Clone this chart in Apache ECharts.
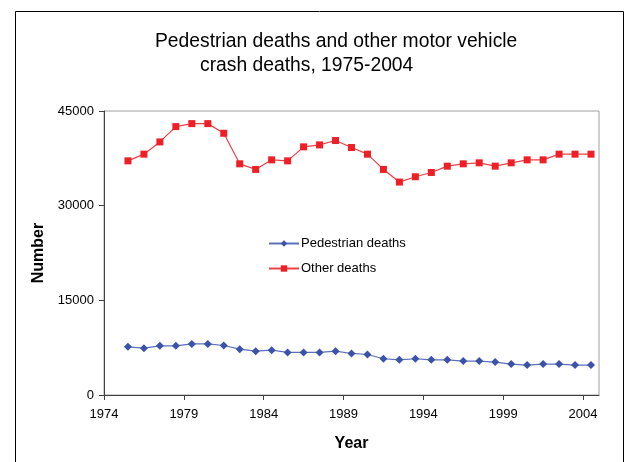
<!DOCTYPE html>
<html>
<head>
<meta charset="utf-8">
<script src="https://cdn.jsdelivr.net/npm/echarts@6/dist/echarts.min.js"></script>
<style>
html,body{margin:0;padding:0;background:#fff;}
#chart{width:628px;height:462px;}
</style>
</head>
<body>
<div id="chart"></div>
<script>
// Data
var years = [1975,1976,1977,1978,1979,1980,1981,1982,1983,1984,1985,1986,1987,1988,1989,
             1990,1991,1992,1993,1994,1995,1996,1997,1998,1999,2000,2001,2002,2003,2004];
var pedestrianDeaths = [7630,7420,7790,7790,8100,8100,7840,7260,6950,7100,6740,6740,6740,6950,6580,
                        6420,5740,5580,5740,5580,5580,5370,5370,5210,4900,4740,4900,4900,4740,4740];
var otherDeaths = [37100,38160,40100,42530,43000,43000,41470,36630,35740,37260,37100,39320,39630,40320,39210,
                   38160,35740,33740,34580,35260,36260,36630,36790,36260,36790,37260,37260,38160,38160,38160];
var xTickLabels = ['1974','1979','1984','1989','1994','1999','2004'];
var seriesNames = ['Pedestrian deaths','Other deaths'];
var titleLine1 = 'Pedestrian deaths and other motor vehicle';
var titleLine2 = 'crash deaths, 1975-2004';

// Excel-style category axis: labels sit on the tick between categories.
var xTickPositions = xTickLabels.map(function(l){ return Number(l) - 0.5; });
function pairs(vals){ return years.map(function(y,i){ return [y, vals[i]]; }); }

var chart = echarts.init(document.getElementById('chart'), null, {renderer:'canvas'});
var font = 'Liberation Sans, Arial, sans-serif';
chart.setOption({
  animation:false,
  backgroundColor:'#fff',
  textStyle:{fontFamily:font},
  title:[
    {text:titleLine1, left:155, top:32, padding:0, textStyle:{fontSize:19.3, fontWeight:'normal', color:'#000', fontFamily:font}},
    {text:titleLine2, left:200, top:56, padding:0, textStyle:{fontSize:19.3, fontWeight:'normal', color:'#000', fontFamily:font}}
  ],
  graphic:[
    {type:'rect', shape:{x:15.5, y:11.5, width:608, height:470}, style:{fill:null, stroke:'#000', lineWidth:1}, silent:true, z:-1}
  ],
  legend:{
    data:seriesNames,
    orient:'vertical',
    left:268, top:237, padding:0,
    itemWidth:30, itemHeight:8, itemGap:12,
    textStyle:{fontSize:13, color:'#000', fontFamily:font, padding:[0,0,0,-3]}
  },
  grid:{left:104, top:111, right:29, bottom:67, show:true, borderColor:'#a0a0a0', borderWidth:1, backgroundColor:'transparent'},
  xAxis:{
    type:'value', min:xTickPositions[0], max:years[years.length-1]+0.5,
    name:'Year', nameLocation:'middle', nameGap:41,
    nameTextStyle:{fontSize:16, fontWeight:'bold', color:'#000', fontFamily:font},
    axisLine:{show:true, lineStyle:{color:'#404040', width:1}},
    axisTick:{show:true, inside:false, length:5, lineStyle:{color:'#404040'}, customValues:xTickPositions},
    axisLabel:{show:true, fontSize:13, color:'#000', margin:13, customValues:xTickPositions,
      formatter:function(v){ var i = xTickPositions.indexOf(v); return i>=0 ? xTickLabels[i] : ''; }},
    splitLine:{show:false}
  },
  yAxis:{
    type:'value', min:0, max:45000, interval:15000,
    name:'Number', nameLocation:'middle', nameGap:42,
    nameTextStyle:{fontSize:16, fontWeight:'bold', color:'#000', fontFamily:font},
    axisLine:{show:true, lineStyle:{color:'#404040', width:1}},
    axisTick:{show:true, inside:false, length:5, lineStyle:{color:'#404040'}},
    axisLabel:{fontSize:13, color:'#000', margin:10, formatter:function(v){ return String(v); }},
    splitLine:{show:false}
  },
  series:[
    {name:seriesNames[0], type:'line', data:pairs(pedestrianDeaths), symbol:'diamond', symbolSize:8,
     itemStyle:{color:'#3a52a8'}, lineStyle:{color:'#5a70b8', width:1.2}},
    {name:seriesNames[1], type:'line', data:pairs(otherDeaths), symbol:'rect', symbolSize:7,
     itemStyle:{color:'#ee1f26'}, lineStyle:{color:'#ee4048', width:1.2}}
  ]
});
</script>
</body>
</html>
